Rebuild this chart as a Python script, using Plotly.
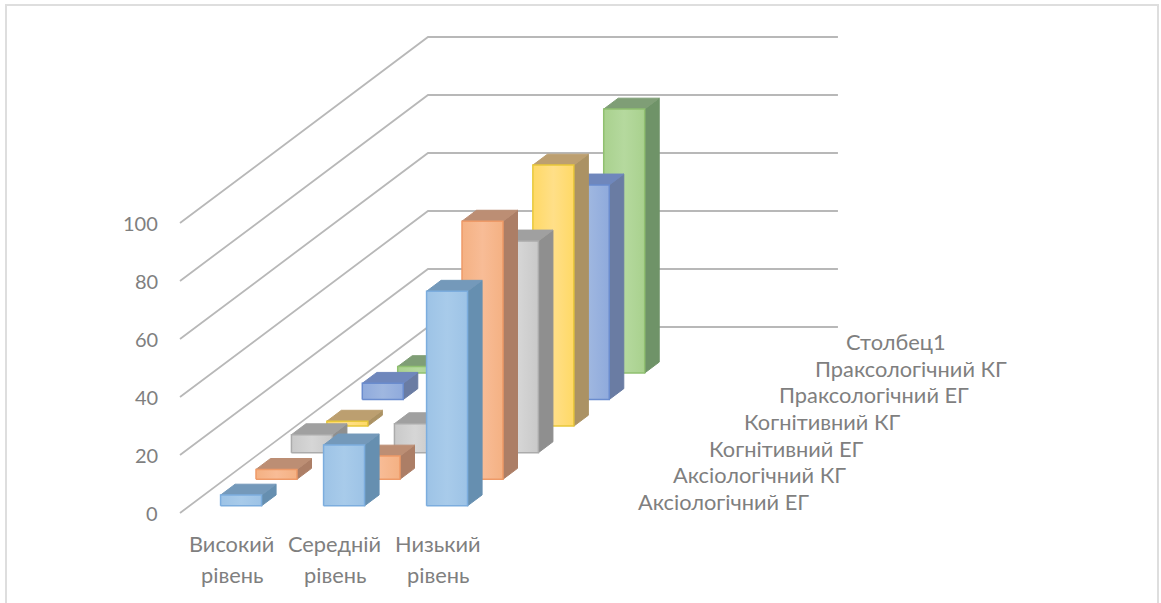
import plotly.graph_objects as go

categories = ["Високий рівень", "Середній рівень", "Низький рівень", ""]
series_names = ["Аксіологічний ЕГ", "Аксіологічний КГ", "Когнітивний ЕГ", "Когнітивний КГ",
                "Праксологічний ЕГ", "Праксологічний КГ", "Столбец1"]
aksio_eg = [3.7, 21, 74]
aksio_kg = [3.4, 8, 89]
kogn_eg = [6.2, 10, 73]
kogn_kg = [1.7, 8, 90]
prak_eg = [5.6, 20, 74]
prak_kg = [2.2, 7, 91]
stovbec = [None, None, None]
series_values = [aksio_eg, aksio_kg, kogn_eg, kogn_kg, prak_eg, prak_kg, stovbec]
value_ticks = [0, 20, 40, 60, 80, 100]

front = ["#9DC3E6", "#F4B183", "#C9C9C9", "#FFD966", "#8FAADC", "#A9D18E"]
light = ["#A8CBEA", "#F8BC96", "#D6D6D6", "#FFDF88", "#9FB7E0", "#B5D99E"]
edge = ["#7CADDE", "#EE9A68", "#ABABAB", "#E8C83A", "#6A8CCE", "#90C070"]
top = ["#7499BA", "#BC8E74", "#A0A0A0", "#BC9F70", "#6F87BC", "#7F9E76"]
side = ["#668FB0", "#AC7E66", "#8F8F8F", "#AB9264", "#6A7CA3", "#6F9368"]

GRID = "#B8B8B8"
TEXT = "#7F7F7F"
FONT = "Lato"
X0, Y0 = 180, 513
CAT_W, S_DX, S_DY, PX_PER_UNIT = 103, 248 / 7, 186 / 7, 2.9
GAP = (103 - 42) / 2 / 103 + 0.005


def proj(c, s, v):
    return X0 + c * CAT_W + s * S_DX, Y0 - s * S_DY - v * PX_PER_UNIT


fig = go.Figure()


def line(pts, w=1.8, color=GRID):
    fig.add_trace(go.Scatter(x=[p[0] for p in pts], y=[p[1] for p in pts], mode="lines",
                             line=dict(color=color, width=w), hoverinfo="skip", showlegend=False))


def face(pts, color, ln, grad=None, w=1):
    xs = [p[0] for p in pts] + [pts[0][0]]
    ys = [p[1] for p in pts] + [pts[0][1]]
    kw = {}
    if grad:
        kw["fillgradient"] = dict(type="horizontal", colorscale=[[0, grad[0]], [0.5, grad[1]], [1, grad[0]]])
    else:
        kw["fillcolor"] = color
    fig.add_trace(go.Scatter(x=xs, y=ys, mode="lines", fill="toself", line=dict(color=ln, width=w),
                             hoverinfo="skip", showlegend=False, **kw))


for v in value_ticks:
    line([proj(0, 0, v), proj(0, 7, v), proj(3.98, 7, v)])

for s in range(len(series_values) - 1, -1, -1):
    for c, val in enumerate(series_values[s]):
        if val is None:
            continue
        c0, c1 = c + GAP, c + 1 - GAP
        s0, s1 = s + 0.27, s + 0.68
        face([proj(c1, s0, 0), proj(c1, s1, 0), proj(c1, s1, val), proj(c1, s0, val)], side[s], side[s])
        face([proj(c0, s0, val), proj(c1, s0, val), proj(c1, s1, val), proj(c0, s1, val)], top[s], top[s])
        face([proj(c0, s0, 0), proj(c1, s0, 0), proj(c1, s0, val), proj(c0, s0, val)], front[s], edge[s],
             grad=(front[s], light[s]), w=1.5)

ann = []
for v in value_ticks:
    x, y = proj(0, 0, v)
    ann.append(dict(x=160, y=y, text=str(v), xanchor="right", yanchor="middle", showarrow=False,
                    font=dict(size=20)))
for c, name in enumerate(categories):
    for i, part in enumerate(name.split()):
        x, _ = proj(c + 0.5, 0, 0)
        ann.append(dict(x=x, y=543 + 31 * i, text=part, xanchor="center", yanchor="middle", showarrow=False))
for s, name in enumerate(series_names):
    x, y = proj(4, s + 0.5, 0)
    nudge = -4 if s == len(series_names) - 1 else 0
    ann.append(dict(x=x + 26 + nudge, y=y + 1.5, text=name, xanchor="left", yanchor="middle", showarrow=False))

fig.update_layout(
    width=1161, height=603, margin=dict(l=0, r=0, t=0, b=0),
    paper_bgcolor="white", plot_bgcolor="white", showlegend=False,
    font=dict(family=FONT, size=21.8, color=TEXT),
    xaxis=dict(range=[0, 1161], visible=False, fixedrange=True),
    yaxis=dict(range=[603, 0], visible=False, fixedrange=True),
    annotations=ann,
    shapes=[dict(type="rect", xref="paper", yref="paper", x0=6 / 1161, x1=1158 / 1161, y0=-0.1, y1=1 - 5 / 603,
                 line=dict(color="#DEDEDE", width=2))],
)
fig.write_html("out.html", config={"displayModeBar": False},
               post_script="document.body.style.margin='0';document.documentElement.style.overflow='hidden';")
